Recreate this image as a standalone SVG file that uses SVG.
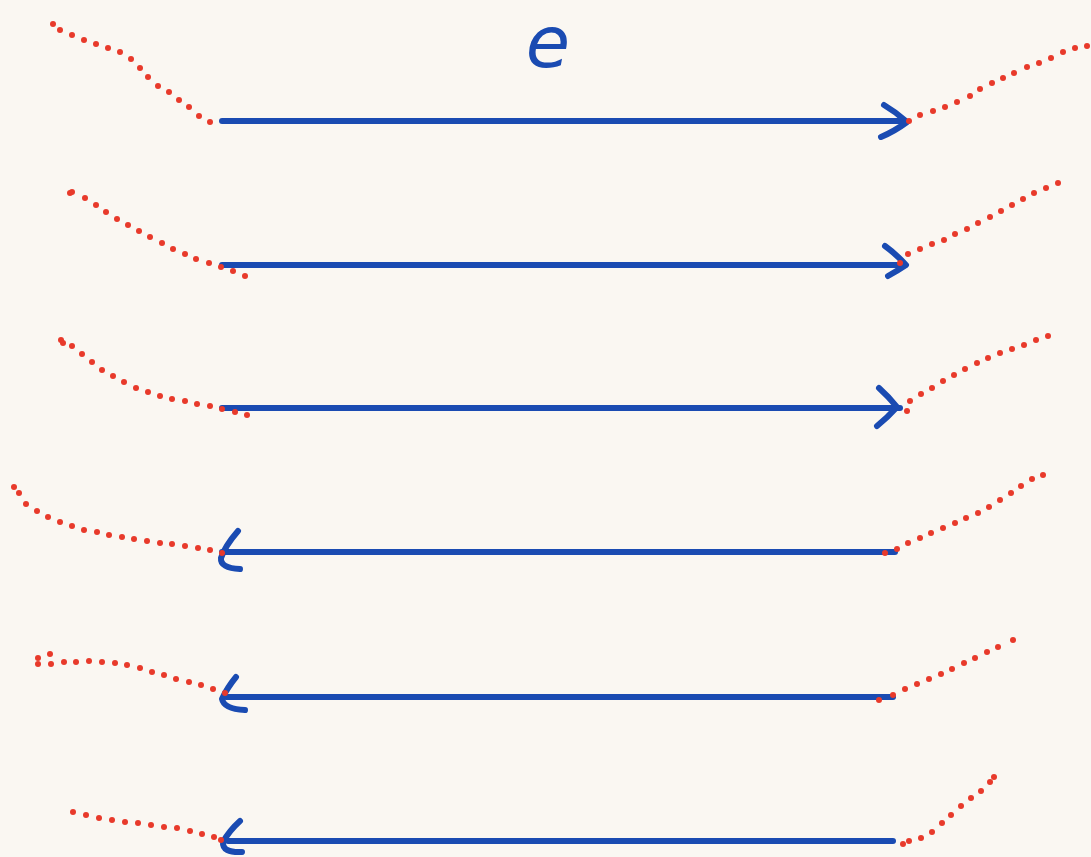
<svg xmlns="http://www.w3.org/2000/svg" width="1091" height="857" viewBox="0 0 1091 857">
<style>
.bg{fill:#faf7f2}
.ln{fill:none;stroke:#1a4bb2;stroke-width:6;stroke-linecap:round;stroke-linejoin:round}
.dot{fill:none;stroke:none;marker-start:url(#d);marker-mid:url(#d);marker-end:url(#d)}
.lbl{font-family:"DejaVu Sans","Liberation Sans",sans-serif;font-size:72px;fill:#1a4bb2;font-style:italic}
</style>
<defs>
<marker id="d" markerUnits="userSpaceOnUse" markerWidth="8" markerHeight="8" refX="4" refY="4" viewBox="0 0 8 8" overflow="visible">
<circle cx="4" cy="4" r="3" fill="#e83a2b"/>
</marker>
</defs>
<rect class="bg" x="0" y="0" width="1091" height="857"/>
<g id="label-e"><text class="lbl" x="548" y="67" text-anchor="middle">e</text></g>
<g id="connectors">
  <g id="row1">
    <path class="ln" d="M222,121 H905"/>
    <path class="ln" d="M884,105 Q896,112 907,122 Q895,131 881,137"/>
    <polyline class="dot" points="53,24 60,30 72,35 84,40 96,44 108,48 120,52 131,59 140,68 148,77 158,86 169,92 179,100 189,107 199,116 210,122"/>
    <polyline class="dot" points="909,121 920,115 933,111 945,107 957,102 970,96 980,89 992,83 1003,78 1014,73 1027,67 1039,63 1051,58 1063,52 1075,48 1087,46"/>
  </g>
  <g id="row2">
    <path class="ln" d="M222,265 H903"/>
    <path class="ln" d="M885,246 Q896,254 906,265 Q897,271 888,276"/>
    <polyline class="dot" points="70,193 72,192 85,198 96,205 106,212 117,219 128,225 139,231 150,237 162,243 173,249 185,254 196,259 209,263 221,267 233,271 245,276"/>
    <polyline class="dot" points="900,263 908,254 920,249 932,244 944,240 955,234 967,229 978,223 990,217 1001,211 1012,205 1023,199 1034,193 1046,188 1058,183"/>
  </g>
  <g id="row3">
    <path class="ln" d="M222,408 H900"/>
    <path class="ln" d="M879,388 Q889,397 897,407 Q888,417 877,426"/>
    <polyline class="dot" points="61,340 63,343 72,346 82,354 92,362 102,370 113,376 124,382 136,388 148,392 160,396 172,399 185,401 197,404 210,406 222,409 235,412 247,415"/>
    <polyline class="dot" points="907,411 910,401 921,394 932,388 943,381 954,375 965,369 977,363 988,358 1000,353 1012,349 1024,345 1036,340 1048,336"/>
  </g>
  <g id="row4">
    <path class="ln" d="M222,552 H895"/>
    <path class="ln" d="M238,531 Q225,546 221,558 Q220,568 240,569"/>
    <polyline class="dot" points="14,487 19,493 26,504 37,511 48,517 60,522 72,526 84,530 97,532 109,535 122,537 134,539 147,541 160,543 172,544 185,546 198,548 210,550 222,553"/>
    <polyline class="dot" points="885,553 897,549 908,543 920,538 931,533 943,528 955,523 966,518 978,513 989,507 1000,500 1011,493 1021,486 1032,479 1043,475"/>
  </g>
  <g id="row5">
    <path class="ln" d="M226,697 H893"/>
    <path class="ln" d="M236,677 Q227,688 222,699 Q224,709 245,710"/>
    <polyline class="dot" points="38,664 51,664 64,662 76,662 89,661 102,662 115,663 127,665 140,668 152,672 164,675 176,679 189,682 201,685 213,689 225,693"/>
    <polyline class="dot" points="38,658 50,654"/>
    <polyline class="dot" points="879,700 893,695 905,689 917,684 929,679 941,674 952,669 964,663 975,658 987,652 998,647 1013,640"/>
  </g>
  <g id="row6">
    <path class="ln" d="M228,841 H893"/>
    <path class="ln" d="M240,821 Q229,831 223,842 Q222,853 242,852"/>
    <polyline class="dot" points="73,812 86,815 99,818 112,820 125,822 138,823 151,825 164,827 177,828 190,831 202,834 214,837 221,840"/>
    <polyline class="dot" points="903,844 909,841 921,838 932,832 942,823 951,815 961,806 971,798 981,791 990,782 994,777"/>
  </g>
</g>
</svg>
